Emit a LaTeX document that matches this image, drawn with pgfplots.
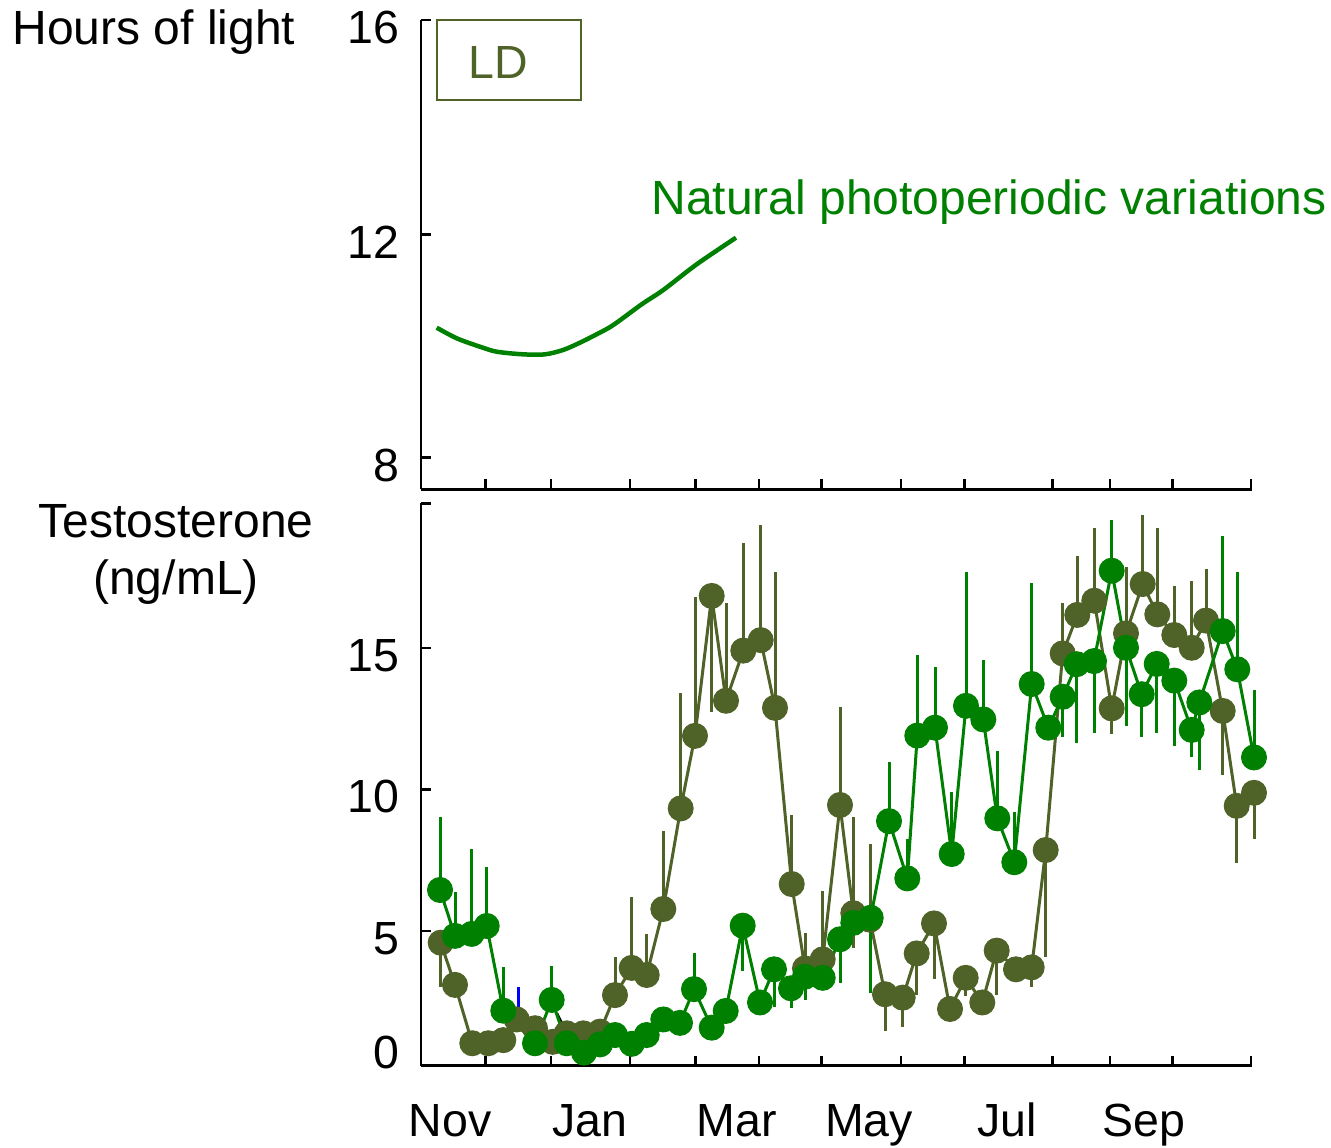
\documentclass[border=0pt]{standalone}
\usepackage{pgfplots}
\pgfplotsset{compat=1.18}
\usepackage{pgfplotstable}
\usepackage{fontspec}
\setmainfont{Liberation Sans}
\definecolor{dgreen}{HTML}{008000}
\definecolor{olivec}{HTML}{4F6228}

\pgfplotstableread{
x y ep em
440.7 4.59 0 1.58
455 3.10 0 0
472.3 1.04 0 0
488.3 1.04 0 0
503.3 1.15 0 0
516.7 1.88 0 0
535 1.57 0 0
552.7 1.09 0 0
566.7 1.39 0 0
583.3 1.39 0 0
600 1.45 0 0
615 2.74 1.33 0
631.7 3.70 2.51 0
646.7 3.45 1.45 0
663.3 5.78 2.76 0
680.7 9.33 4.06 0
695 11.89 4.89 0
711.7 16.83 0 4.09
726 13.13 3.46 0
743.3 14.90 3.79 0
760.7 15.27 4.06 0
775 12.88 4.78 0
791.7 6.66 2.44 0
805 3.68 1.24 1.11
822.7 4.00 2.40 0
840 9.45 3.45 0
853.3 5.63 3.38 1.24
870 5.40 2.67 0
885 2.77 0 1.30
902.7 2.65 0 1.03
916.7 4.21 0 1.47
934 5.27 0 1.96
950 2.25 0 0
965.7 3.35 0 0.64
982.3 2.48 0 0
996.7 4.31 0 1.57
1016 3.65 0 0.44
1031.7 3.72 0 0.68
1045.7 7.86 0 3.77
1062.7 14.80 1.77 0
1077.3 16.16 2.08 0
1094.3 16.66 2.56 0
1111.7 12.86 0 0.92
1126 15.51 2.35 0
1142.7 17.25 2.44 0
1157.3 16.18 3.04 0
1174.3 15.45 1.73 0
1191.7 15.00 2.37 0
1206 15.96 1.81 0
1222.7 12.77 0 2.26
1236.7 9.42 0 2.03
1254 9.88 0 1.64
}\olivedata

\pgfplotstableread{
x y ep em
440 6.45 2.57 0
455 4.83 1.54 0
471.7 4.90 2.99 0
486.7 5.18 2.09 0
503.3 2.19 1.53 0
535 1.04 0 0
551.7 2.57 1.21 0
566.7 1.04 0 0
584 0.71 0 0
600 1.00 0 0
615 1.33 0 0
631.7 1.02 0 0
646.7 1.33 0 0
663.3 1.88 0 0
680 1.76 0 0
694 2.95 1.26 0
711.7 1.59 0 0
725.7 2.18 0 0
742.7 5.19 0 1.59
760 2.48 0 0
774 3.65 0 1.32
791 2.98 0 0.71
805 3.39 0 0.82
822.7 3.35 0 0
840 4.71 0 1.55
853.3 5.29 0 0
870.7 5.47 0 2.65
889 8.88 2.10 0
907.3 6.86 1.38 0
917.3 11.90 2.84 0
935 12.18 2.14 0
951.7 7.72 2.18 0
966 12.95 4.72 0
983.3 12.47 2.09 0
997.3 8.98 2.38 0
1014.3 7.43 1.78 0
1031.7 13.72 3.55 0
1048.3 12.18 0 0
1062.7 13.27 0 1.41
1076.7 14.42 0 2.77
1094 14.53 0 2.55
1111.7 17.72 1.79 0
1126 15.00 0 2.76
1141.7 13.36 0 1.50
1156.7 14.43 0 2.45
1174.3 13.84 0 2.31
1191.7 12.10 0 0.97
1199.3 13.07 0 2.39
1222.7 15.59 3.35 0
1237.3 14.24 3.45 0
1254 11.13 2.38 0
}\greendata

\begin{document}
\begin{tikzpicture}
\useasboundingbox (0,0) rectangle (532.4pt,-458.8pt);
\pgfplotsset{
  common/.style={
    x=0.4pt, xmin=421, xmax=1252,
    axis x line*=bottom, axis y line*=left,
    axis line style={line width=1pt,-},
    tick style={line width=1pt, black},
    tick align=inside, major tick length=4pt,
    xtick={485.7,551,630,695.7,759,821.5,901,964.3,1052.7,1110,1172.7,1251},
    xticklabels={},
    /pgf/number format/assume math mode=true,
    ticklabel style={font=\fontsize{18.6}{22}\selectfont},
    yticklabel style={xshift=-5pt,yshift=-3pt},
    clip=false,
    anchor=south west,
  }
}

\node[anchor=base west, inner sep=0pt, font=\fontsize{19.2}{23}\selectfont] at (4.8pt,-17.6pt) {Hours of light};
\node[anchor=base, inner sep=0pt, font=\fontsize{19.2}{23}\selectfont] at (70.4pt,-214.8pt) {Testosterone};
\node[anchor=base, inner sep=0pt, font=\fontsize{19.2}{23}\selectfont] at (70.4pt,-237.6pt) {(ng/mL)};

\begin{axis}[common, at={(168.4pt,-195.72pt)}, y=22.34pt, ymin=7.434, ymax=15.837,
  ytick={8,12,15.837}, yticklabels={8,12,16}]
\addplot[dgreen, line width=1.8pt, smooth] coordinates {
(436.7,10.328) (456.7,10.138) (480,9.987) (496.7,9.898) (523,9.851) (545,9.851)
(563.3,9.93) (580,10.06) (596.7,10.21) (613.3,10.376) (641.7,10.747) (663.3,11.003)
(696.7,11.463) (736,11.939)};
\draw[olivec, line width=0.8pt] (axis cs:436.7,15.837) rectangle (axis cs:580.7,14.40);
\node[olivec, font=\fontsize{18.6}{22}\selectfont] at (axis cs:498,15.07) {LD};
\node[dgreen, anchor=base west, inner sep=0pt, font=\fontsize{19.2}{23}\selectfont] at (axis cs:651,12.36) {Natural photoperiodic variations};
\end{axis}

\begin{axis}[common, at={(168.4pt,-426.28pt)}, y=11.332pt, ymin=0.247, ymax=20.1,
  ytick={5,10,15,20.1}, yticklabels={5,10,15,{}},
  extra y ticks={0.98}, extra y tick labels={0},
  extra x ticks={450,590,737,869,1007,1144},
  extra x tick labels={Nov,Jan,Mar,May,Jul,Sep},
  extra tick style={major tick length=0pt},
  xticklabel style={text height=13.3pt, text depth=0pt, yshift=-11.4pt}]
\addplot[blue, line width=1.2pt] coordinates {(518.7,2.21) (518.7,3.01)};
\addplot[black, line width=1.2pt] coordinates {(556.7,2.10) (563.3,1.62)};
\addplot[olivec, line width=1.2pt, mark=*, mark size=5pt, mark options={fill=olivec, draw=olivec, line width=0.4pt},
  error bars/.cd, y dir=both, y explicit, error mark=none,
  error bar style={line width=1.2pt, olivec}]
  table[x=x, y=y, y error plus=ep, y error minus=em] {\olivedata};
\addplot[dgreen, line width=1.2pt, mark=*, mark size=5pt, mark options={fill=dgreen, draw=dgreen, line width=0.4pt},
  error bars/.cd, y dir=both, y explicit, error mark=none,
  error bar style={line width=1.2pt, dgreen}]
  table[x=x, y=y, y error plus=ep, y error minus=em] {\greendata};
\end{axis}
\end{tikzpicture}
\end{document}
